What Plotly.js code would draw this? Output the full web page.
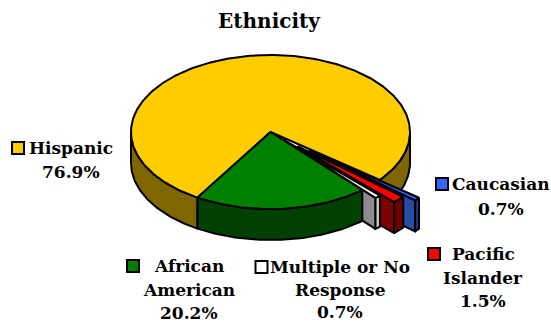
<!DOCTYPE html>
<html><head><meta charset="utf-8">
<script src="https://cdn.plot.ly/plotly-3.0.1.min.js"></script>
<style>html,body{margin:0;padding:0;background:#fff}#chart{width:551px;height:322px}</style>
</head><body><div id="chart"></div>
<script>
// ---- data ----
const categories = ['Hispanic', 'African American', 'Multiple or No Response', 'Pacific Islander', 'Caucasian'];
const labelLines = [['Hispanic'], ['African', 'American'], ['Multiple or No', 'Response'], ['Pacific', 'Islander'], ['Caucasian']];
const values = [76.9, 20.2, 0.7, 1.5, 0.7];
const chartTitle = 'Ethnicity';

// ---- styles / geometry settings ----
const topColors  = ['#FFCC00', '#008000', '#FFFFFF', '#FF0000', '#3366FF'];
const wallColors = ['#806600', '#004000', '#C4C4C4', '#6E0000', '#1A3380'];
const faceColors = ['#806600', '#004000', '#8C8C8C', '#800000', '#2A4BA5'];
const explode = [0, 0, 0.14, 0.27, 0.365];
const GEO = {cx: 270.5, cy: 132, rx: 139.5, ry: 77, depth: 31, start: 398.4};
const labelPos = [[71, 148], [189, 266], [340, 267], [483, 254], [501, 184]];
const keyPos = [[18, 148], [133, 266], [261.5, 267], [434, 254], [442, 184]];
const lineSteps = [24, 23.5, 22.5, 23.5, 24.5];
const FONT = 'DejaVu Serif';

const rad = d => d * Math.PI / 180;
const total = values.reduce((a, b) => a + b, 0);

function pt(theta, r, off, h) {
  return [GEO.cx + GEO.rx * r * Math.cos(rad(theta)) + off[0],
          GEO.cy + GEO.ry * r * Math.sin(rad(theta)) + off[1] + h];
}
function arc(a0, a1, off, h) {
  const pts = [];
  const n = Math.max(2, Math.ceil(Math.abs(a1 - a0) / 1));
  for (let k = 0; k <= n; k++) pts.push(pt(a0 + (a1 - a0) * k / n, 1, off, h));
  return pts;
}
function poly(pts, fill, name) {
  const x = pts.map(p => p[0]); const y = pts.map(p => p[1]);
  x.push(x[0]); y.push(y[0]);
  return {type: 'scatter', mode: 'lines', x: x, y: y, fill: 'toself', fillcolor: fill,
          line: {color: '#000', width: 2}, hoverinfo: 'skip', showlegend: false, name: name};
}

const backWalls = [], faces = [], walls = [], tops = [];
let cur = GEO.start;
values.forEach((v, i) => {
  const hi = cur, lo = cur - 360 * v / total;
  cur = lo;
  const mid = (lo + hi) / 2;
  const off = [GEO.rx * explode[i] * Math.cos(rad(mid)), GEO.ry * explode[i] * Math.sin(rad(mid))];
  const D = GEO.depth;
  // top
  tops.push(poly([pt(0, 0, off, 0)].concat(arc(lo, hi, off, 0)), topColors[i], categories[i]));
  // outer wall, front facing parts
  for (let k = Math.floor(lo / 360) - 1; k <= Math.ceil(hi / 360); k++) {
    const a = Math.max(lo, 360 * k), b = Math.min(hi, 360 * k + 180);
    if (b - a > 0.01) {
      const top = arc(a, b, off, 0), bot = arc(b, a, off, D);
      const tr = poly(top.concat(bot), wallColors[i], categories[i]);
      (i === 0 ? backWalls : walls).push(tr);
    }
  }
  // radial faces
  const addFace = (ang) => {
    const dist = Math.abs(((ang - 90) % 360 + 540) % 360 - 180);
    faces.push({key: -dist, tr: poly([pt(0, 0, off, 0), pt(ang, 1, off, 0), pt(ang, 1, off, D), pt(0, 0, off, D)], faceColors[i], categories[i])});
  };
  if (explode[i] > 0) {
    if (Math.cos(rad(hi)) > 0) addFace(hi);
    if (Math.cos(rad(lo)) < 0) addFace(lo);
  }
});
faces.sort((a, b) => a.key - b.key);
const traces = backWalls.concat(faces.map(f => f.tr), walls, tops);

// labels
const annotations = [];
const shapes = [];
values.forEach((v, i) => {
  const lines = labelLines[i].concat([v.toFixed(1) + '%']);
  lines.forEach((t, j) => {
    annotations.push({xref: 'x', yref: 'y', x: labelPos[i][0], y: labelPos[i][1] + j * lineSteps[i],
      text: t, showarrow: false, xanchor: 'center', yanchor: 'middle',
      font: {family: FONT, size: 17, color: '#000', weight: 'bold'}});
  });
  const [kx, ky] = keyPos[i];
  shapes.push({type: 'rect', xref: 'x', yref: 'y', x0: kx - 6, x1: kx + 6, y0: ky - 6, y1: ky + 6,
    fillcolor: topColors[i], line: {color: '#000', width: 2}});
});

const layout = {
  width: 551, height: 322, margin: {l: 0, r: 0, t: 0, b: 0},
  paper_bgcolor: '#fff', plot_bgcolor: '#fff',
  title: {text: chartTitle, x: 269 / 551, xanchor: 'center', y: 1 - 21 / 322, yanchor: 'middle',
          font: {family: FONT, size: 20, color: '#000', weight: 'bold'}},
  xaxis: {range: [0, 551], visible: false, fixedrange: true},
  yaxis: {range: [322, 0], visible: false, fixedrange: true},
  annotations: annotations, shapes: shapes, showlegend: false
};
Plotly.newPlot('chart', traces, layout, {displayModeBar: false, staticPlot: true});
</script></body></html>
